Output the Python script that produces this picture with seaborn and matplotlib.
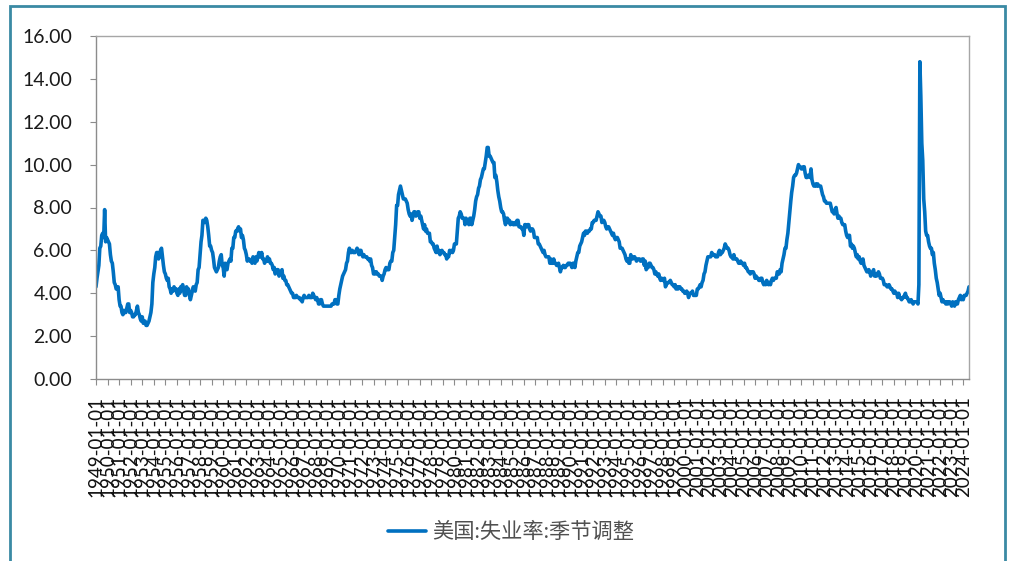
import numpy as np
import pandas as pd
import matplotlib
matplotlib.use("Agg")
import matplotlib.pyplot as plt
import seaborn as sns
from matplotlib.patches import Rectangle

# ---- data: US unemployment rate, seasonally adjusted, monthly ----
start_month = "1949-01-01"

rate_1949_1959 = [
    4.3, 4.7, 5.0, 5.3, 6.1, 6.2, 6.7, 6.8, 6.6, 7.9, 6.4, 6.6,
    6.5, 6.4, 6.3, 5.8, 5.5, 5.4, 5.0, 4.5, 4.4, 4.2, 4.2, 4.3,
    3.7, 3.4, 3.4, 3.1, 3.0, 3.2, 3.1, 3.1, 3.3, 3.5, 3.5, 3.1,
    3.2, 3.1, 2.9, 2.9, 3.0, 3.0, 3.2, 3.4, 3.1, 3.0, 2.8, 2.7,
    2.9, 2.6, 2.6, 2.7, 2.5, 2.5, 2.6, 2.7, 2.9, 3.1, 3.5, 4.5,
    4.9, 5.2, 5.7, 5.9, 5.9, 5.6, 5.8, 6.0, 6.1, 5.7, 5.3, 5.0,
    4.9, 4.7, 4.6, 4.7, 4.3, 4.2, 4.0, 4.2, 4.1, 4.3, 4.2, 4.2,
    4.0, 3.9, 4.2, 4.0, 4.3, 4.3, 4.4, 4.1, 3.9, 3.9, 4.3, 4.2,
    4.2, 3.9, 3.7, 3.9, 4.1, 4.3, 4.2, 4.1, 4.4, 4.5, 5.1, 5.2,
    5.8, 6.4, 6.7, 7.4, 7.4, 7.3, 7.5, 7.4, 7.1, 6.7, 6.2, 6.2,
    6.0, 5.9, 5.6, 5.2, 5.1, 5.0, 5.1, 5.2, 5.5, 5.7, 5.8, 5.3,
]
rate_1960s = [
    5.2, 4.8, 5.4, 5.2, 5.1, 5.4, 5.5, 5.6, 5.5, 6.1, 6.1, 6.6,
    6.6, 6.9, 6.9, 7.0, 7.1, 6.9, 7.0, 6.6, 6.7, 6.5, 6.1, 6.0,
    5.8, 5.5, 5.6, 5.6, 5.5, 5.5, 5.4, 5.7, 5.6, 5.4, 5.7, 5.5,
    5.7, 5.9, 5.7, 5.7, 5.9, 5.6, 5.6, 5.4, 5.5, 5.5, 5.7, 5.5,
    5.6, 5.4, 5.4, 5.3, 5.1, 5.2, 4.9, 5.0, 5.1, 5.1, 4.8, 5.0,
    4.9, 5.1, 4.7, 4.8, 4.6, 4.6, 4.4, 4.4, 4.3, 4.2, 4.1, 4.0,
    4.0, 3.8, 3.8, 3.8, 3.9, 3.8, 3.8, 3.8, 3.7, 3.7, 3.6, 3.8,
    3.9, 3.8, 3.8, 3.8, 3.8, 3.9, 3.8, 3.8, 3.8, 4.0, 3.9, 3.8,
    3.7, 3.8, 3.7, 3.5, 3.5, 3.7, 3.7, 3.5, 3.4, 3.4, 3.4, 3.4,
    3.4, 3.4, 3.4, 3.4, 3.4, 3.5, 3.5, 3.5, 3.7, 3.7, 3.5, 3.5,
]
rate_1970s = [
    3.9, 4.2, 4.4, 4.6, 4.8, 4.9, 5.0, 5.1, 5.4, 5.5, 5.9, 6.1,
    5.9, 5.9, 6.0, 5.9, 5.9, 5.9, 6.0, 6.1, 6.0, 5.8, 6.0, 6.0,
    5.8, 5.7, 5.8, 5.7, 5.7, 5.7, 5.6, 5.6, 5.5, 5.6, 5.3, 5.2,
    4.9, 5.0, 4.9, 5.0, 4.9, 4.9, 4.8, 4.8, 4.8, 4.6, 4.8, 4.9,
    5.1, 5.2, 5.1, 5.1, 5.1, 5.4, 5.5, 5.5, 5.9, 6.0, 6.6, 7.2,
    8.1, 8.1, 8.6, 8.8, 9.0, 8.8, 8.6, 8.4, 8.4, 8.4, 8.3, 8.2,
    7.9, 7.7, 7.6, 7.7, 7.4, 7.6, 7.8, 7.8, 7.6, 7.7, 7.8, 7.8,
    7.5, 7.6, 7.4, 7.2, 7.0, 7.2, 6.9, 7.0, 6.8, 6.8, 6.8, 6.4,
    6.4, 6.3, 6.3, 6.1, 6.0, 5.9, 6.2, 5.9, 6.0, 5.8, 5.9, 6.0,
    5.9, 5.9, 5.8, 5.8, 5.6, 5.7, 5.7, 6.0, 5.9, 6.0, 5.9, 6.0,
]
rate_1980s = [
    6.3, 6.3, 6.3, 6.9, 7.5, 7.6, 7.8, 7.7, 7.5, 7.5, 7.5, 7.2,
    7.5, 7.4, 7.4, 7.2, 7.5, 7.5, 7.2, 7.4, 7.6, 7.9, 8.3, 8.5,
    8.6, 8.9, 9.0, 9.3, 9.4, 9.6, 9.8, 9.8, 10.1, 10.4, 10.8, 10.8,
    10.4, 10.4, 10.3, 10.2, 10.1, 10.1, 9.4, 9.5, 9.2, 8.8, 8.5, 8.3,
    8.0, 7.8, 7.8, 7.7, 7.4, 7.2, 7.5, 7.5, 7.3, 7.4, 7.2, 7.3,
    7.3, 7.2, 7.2, 7.3, 7.2, 7.4, 7.4, 7.1, 7.1, 7.1, 7.0, 7.0,
    6.7, 7.2, 7.2, 7.1, 7.2, 7.2, 7.0, 6.9, 7.0, 7.0, 6.9, 6.6,
    6.6, 6.6, 6.6, 6.3, 6.3, 6.2, 6.1, 6.0, 5.9, 6.0, 5.8, 5.7,
    5.7, 5.7, 5.7, 5.4, 5.6, 5.4, 5.4, 5.6, 5.4, 5.4, 5.3, 5.3,
    5.4, 5.2, 5.0, 5.2, 5.2, 5.3, 5.2, 5.2, 5.3, 5.3, 5.4, 5.4,
]
rate_1990s = [
    5.4, 5.3, 5.2, 5.4, 5.4, 5.2, 5.5, 5.7, 5.9, 5.9, 6.2, 6.3,
    6.4, 6.6, 6.8, 6.7, 6.9, 6.9, 6.8, 6.9, 6.9, 7.0, 7.0, 7.3,
    7.3, 7.4, 7.4, 7.4, 7.6, 7.8, 7.7, 7.6, 7.6, 7.3, 7.4, 7.4,
    7.3, 7.1, 7.0, 7.1, 7.1, 7.0, 6.9, 6.8, 6.7, 6.8, 6.6, 6.5,
    6.6, 6.6, 6.5, 6.4, 6.1, 6.1, 6.1, 6.0, 5.9, 5.8, 5.6, 5.5,
    5.6, 5.4, 5.4, 5.8, 5.6, 5.6, 5.7, 5.7, 5.6, 5.5, 5.6, 5.6,
    5.6, 5.5, 5.5, 5.6, 5.6, 5.3, 5.5, 5.1, 5.2, 5.2, 5.4, 5.4,
    5.3, 5.2, 5.2, 5.1, 4.9, 5.0, 4.9, 4.8, 4.9, 4.7, 4.6, 4.7,
    4.6, 4.6, 4.7, 4.3, 4.4, 4.5, 4.5, 4.5, 4.6, 4.5, 4.4, 4.4,
    4.3, 4.4, 4.2, 4.3, 4.2, 4.3, 4.3, 4.2, 4.2, 4.1, 4.1, 4.0,
]
rate_2000s = [
    4.0, 4.1, 4.0, 3.8, 4.0, 4.0, 4.0, 4.1, 3.9, 3.9, 3.9, 3.9,
    4.2, 4.2, 4.3, 4.4, 4.3, 4.5, 4.6, 4.9, 5.0, 5.3, 5.5, 5.7,
    5.7, 5.7, 5.7, 5.9, 5.8, 5.8, 5.8, 5.7, 5.7, 5.7, 5.9, 6.0,
    5.8, 5.9, 5.9, 6.0, 6.1, 6.3, 6.2, 6.1, 6.1, 6.0, 5.8, 5.7,
    5.7, 5.6, 5.8, 5.6, 5.6, 5.6, 5.5, 5.4, 5.4, 5.5, 5.4, 5.4,
    5.3, 5.4, 5.2, 5.2, 5.1, 5.0, 5.0, 4.9, 5.0, 5.0, 5.0, 4.9,
    4.7, 4.8, 4.7, 4.7, 4.6, 4.6, 4.7, 4.7, 4.5, 4.4, 4.5, 4.4,
    4.6, 4.5, 4.4, 4.5, 4.4, 4.6, 4.7, 4.6, 4.7, 4.7, 4.7, 5.0,
    5.0, 4.9, 5.1, 5.0, 5.4, 5.6, 5.8, 6.1, 6.1, 6.5, 6.8, 7.3,
    7.8, 8.3, 8.7, 9.0, 9.4, 9.5, 9.5, 9.6, 9.8, 10.0, 9.9, 9.9,
]
rate_2010s = [
    9.8, 9.8, 9.9, 9.9, 9.6, 9.4, 9.4, 9.5, 9.5, 9.4, 9.8, 9.3,
    9.1, 9.0, 9.0, 9.1, 9.0, 9.1, 9.0, 9.0, 9.0, 8.8, 8.6, 8.5,
    8.3, 8.3, 8.2, 8.2, 8.2, 8.2, 8.2, 8.0, 7.8, 7.8, 7.7, 7.9,
    8.0, 7.7, 7.5, 7.6, 7.5, 7.5, 7.3, 7.2, 7.2, 7.2, 6.9, 6.7,
    6.6, 6.7, 6.7, 6.2, 6.3, 6.1, 6.2, 6.1, 5.9, 5.7, 5.8, 5.6,
    5.7, 5.5, 5.4, 5.4, 5.6, 5.3, 5.2, 5.1, 5.0, 5.0, 5.1, 5.0,
    4.8, 4.9, 5.0, 5.1, 4.8, 4.9, 4.8, 4.9, 5.0, 4.9, 4.7, 4.7,
    4.7, 4.6, 4.4, 4.4, 4.4, 4.3, 4.3, 4.4, 4.3, 4.2, 4.2, 4.1,
    4.0, 4.1, 4.0, 4.0, 3.8, 4.0, 3.8, 3.8, 3.7, 3.8, 3.8, 3.9,
    4.0, 3.8, 3.8, 3.7, 3.6, 3.6, 3.7, 3.6, 3.5, 3.6, 3.6, 3.6,
]
rate_2020s = [
    3.6, 3.5, 4.4, 14.8, 13.2, 11.0, 10.2, 8.4, 7.8, 6.9, 6.7, 6.7,
    6.4, 6.2, 6.1, 6.1, 5.8, 5.9, 5.4, 5.1, 4.7, 4.5, 4.2, 3.9,
    4.0, 3.8, 3.6, 3.7, 3.6, 3.6, 3.5, 3.6, 3.5, 3.6, 3.6, 3.5,
    3.4, 3.6, 3.5, 3.4, 3.6, 3.6, 3.5, 3.7, 3.8, 3.9, 3.7, 3.8,
    3.7, 3.9, 3.9, 3.9, 4.0, 4.1, 4.3,
]
series_name = "美国:失业率:季节调整"
y_ticks = [0, 2, 4, 6, 8, 10, 12, 14, 16]

values = (rate_1949_1959 + rate_1960s + rate_1970s + rate_1980s
          + rate_1990s + rate_2000s + rate_2010s + rate_2020s)
dates = pd.date_range(start_month, periods=len(values), freq="MS")
df = pd.DataFrame({"date": dates, "rate": values, "series": series_name})

# ---- style ----
sns.set_style("white")
plt.rcParams["font.family"] = ["Lato", "Noto Sans CJK SC", "DejaVu Sans"]

fig = plt.figure(figsize=(10.1, 5.61), dpi=100)
ax = fig.add_axes([96 / 1010, 1 - 379 / 561, (969 - 96) / 1010, (379 - 36) / 561])

line_color = "#0070C0"
sns.lineplot(data=df, x="date", y="rate", hue="series", palette=[line_color],
             linewidth=2.6, ax=ax, legend=True)

ax.set_xlim(dates[0], dates[-1])
ax.set_ylim(0, 16)
ax.set_yticks(y_ticks)
ax.set_yticklabels([f"{v:.2f}" for v in y_ticks])

year_ticks = pd.date_range("1949-01-01", "2024-01-01", freq="YS")
ax.set_xticks(year_ticks)
ax.set_xticklabels([d.strftime("%Y-%m-%d") for d in year_ticks], rotation=90)

ax.set_xlabel("")
ax.set_ylabel("")

spine_color = "#8C8C8C"
for s in ["left", "bottom"]:
    ax.spines[s].set_color(spine_color)
    ax.spines[s].set_linewidth(1.0)
for s in ["top", "right"]:
    ax.spines[s].set_color("#A6A6A6")
    ax.spines[s].set_linewidth(1.0)

ax.tick_params(axis="y", which="major", direction="out", length=4.3, width=0.8,
               color=spine_color, pad=13, labelsize=14, labelcolor="#1A1A1A",
               left=True)
ax.tick_params(axis="x", which="major", direction="out", length=4.3, width=0.8,
               color=spine_color, pad=8, labelsize=13.5, labelcolor="#111111",
               bottom=True)

# legend
handles, labels = ax.get_legend_handles_labels()
ax.legend(handles, labels, loc="center", bbox_to_anchor=(511 / 1010, 1 - 532 / 561),
          bbox_transform=fig.transFigure, frameon=False, fontsize=15.3,
          handlelength=1.8, handletextpad=0.25, labelcolor="#505050")

# outer frame
fig.patches.append(Rectangle((10 / 1010, -0.05), (1005 - 10) / 1010, 1.05 - 6 / 561,
                             transform=fig.transFigure, fill=False,
                             edgecolor="#3A8AA4", linewidth=2.0, zorder=10))

fig.savefig("out.png", dpi=100)
